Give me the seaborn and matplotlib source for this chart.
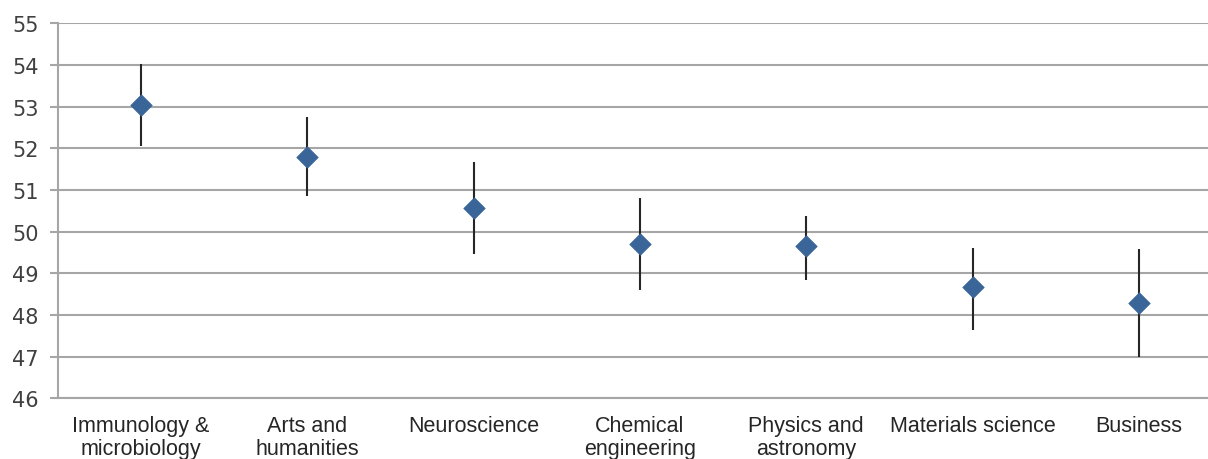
import matplotlib
matplotlib.use("Agg")
import matplotlib.pyplot as plt
import seaborn as sns
import pandas as pd
import numpy as np

categories = ["Immunology &\nmicrobiology", "Arts and\nhumanities", "Neuroscience",
              "Chemical\nengineering", "Physics and\nastronomy", "Materials science", "Business"]
means = [53.04, 51.80, 50.57, 49.70, 49.65, 48.66, 48.29]
upper = [54.02, 52.76, 51.68, 50.81, 50.38, 49.61, 49.58]
lower = [52.06, 50.86, 49.46, 48.60, 48.85, 47.65, 46.98]
y_ticks = [46, 47, 48, 49, 50, 51, 52, 53, 54, 55]

df = pd.DataFrame({"category": categories, "mean": means, "upper": upper, "lower": lower})

sns.set_theme(style="white")
plt.rcParams["font.family"] = ["Liberation Sans", "DejaVu Sans"]

fig = plt.figure(figsize=(12.08, 4.6), dpi=100)
ax = fig.add_axes([58 / 1208, 1 - 399.3 / 460, 1164 / 1208, (399.3 - 24.3) / 460])

grid_c = "#A6A6A6"
ax.vlines(df["category"], df["lower"], df["upper"], color="#262626", linewidth=1.5, zorder=2)
sns.scatterplot(data=df, x="category", y="mean", marker="D", s=120, color="#3A6598",
                edgecolor="#3A6598", linewidth=0.5, ax=ax, zorder=3, legend=False)

ax.set_xlim(-0.5, len(categories) - 0.5)
ax.set_ylim(46, 55)
ax.set_yticks(y_ticks)
ax.set_yticklabels([str(t) for t in y_ticks], fontfamily="DejaVu Sans", fontsize=15, color="#404040")
ax.set_xticks(range(len(categories)))
ax.set_xticklabels(categories, fontsize=15.5, color="#262626", linespacing=1.15)
ax.set_xticks(np.arange(-0.5, len(categories), 1.0), minor=True)

ax.tick_params(axis="x", which="major", length=0, pad=12)
ax.tick_params(axis="x", which="minor", length=6, width=1.2, color=grid_c, direction="out")
ax.tick_params(axis="y", which="major", length=6, width=1.5, color=grid_c, direction="out", pad=8, left=True)

ax.yaxis.grid(True, color=grid_c, linewidth=1.5)
ax.xaxis.grid(False)
ax.set_axisbelow(True)
ax.set_xlabel("")
ax.set_ylabel("")
for side in ["top", "right"]:
    ax.spines[side].set_visible(False)
for side in ["left", "bottom"]:
    ax.spines[side].set_color(grid_c)
    ax.spines[side].set_linewidth(1.5)

fig.savefig("out.png", dpi=100)
